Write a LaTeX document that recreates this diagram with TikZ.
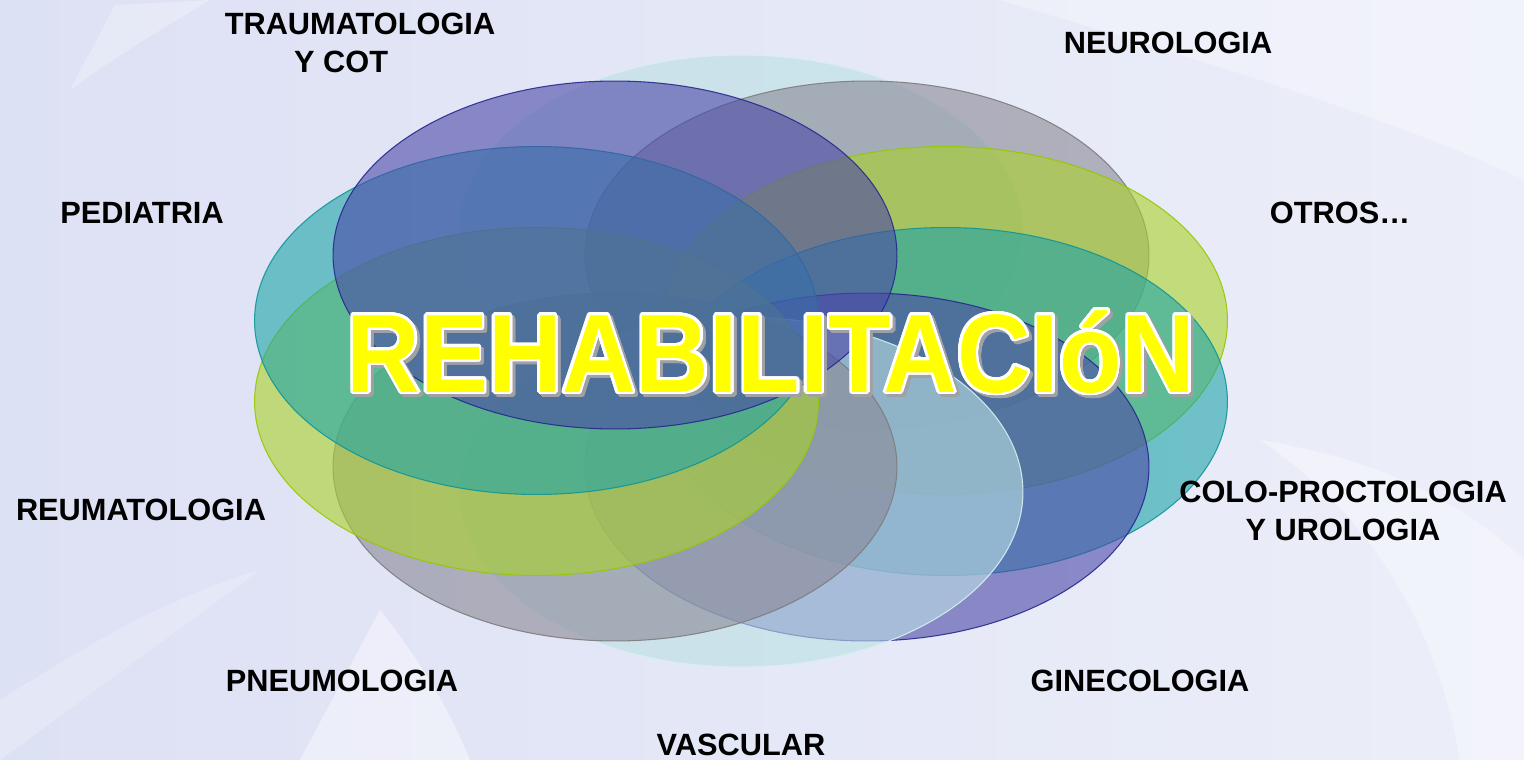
\documentclass[tikz,border=0pt]{standalone}
\usepackage{fontspec}
\setmainfont{Liberation Sans}
\usepackage{contour}
\contourlength{1.6pt}
\contournumber{24}
\usetikzlibrary{positioning}

\definecolor{bgleft}{RGB}{221,225,244}
\definecolor{bgright}{RGB}{236,238,249}
\definecolor{setpurple}{RGB}{75,72,168}
\definecolor{setpurpleline}{RGB}{40,40,140}
\definecolor{setcyan}{RGB}{187,224,228}
\definecolor{setcyanline}{RGB}{215,240,240}
\definecolor{setgray}{RGB}{138,136,150}
\definecolor{setgrayline}{RGB}{125,125,125}
\definecolor{setlime}{RGB}{170,210,40}
\definecolor{setlimeline}{RGB}{150,200,0}
\definecolor{setteal}{RGB}{30,164,168}
\definecolor{settealline}{RGB}{15,150,150}
\definecolor{titleyellow}{RGB}{255,255,0}
\definecolor{shadowgray}{RGB}{160,160,165}

\tikzset{purple set/.style={fill=setpurple, draw=setpurpleline, fill opacity=0.6, draw opacity=0.9, line width=0.6pt}}
\tikzset{cyan set/.style={fill=setcyan, draw=setcyanline, fill opacity=0.6, draw opacity=0.9, line width=0.6pt}}
\tikzset{gray set/.style={fill=setgray, draw=setgrayline, fill opacity=0.6, draw opacity=0.9, line width=0.6pt}}
\tikzset{lime set/.style={fill=setlime, draw=setlimeline, fill opacity=0.6, draw opacity=0.9, line width=0.6pt}}
\tikzset{teal set/.style={fill=setteal, draw=settealline, fill opacity=0.6, draw opacity=0.9, line width=0.6pt}}
\tikzset{area label/.style={font=\fontsize{17.5}{21.5}\selectfont\bfseries, align=center, inner sep=0pt}}
\tikzset{title text/.style={font=\fontsize{63.5}{70}\selectfont\bfseries, inner sep=0pt, anchor=base, xscale=0.915, transform shape}}

\begin{document}
\begin{tikzpicture}[x=0.02cm, y=-0.02cm]
\useasboundingbox (0,0) rectangle (1524,760);

% Background with soft white swooshes
\fill[left color=bgleft, right color=bgright] (0,0) rectangle (1524,760);
\fill[white, opacity=0.3] (1000,0) .. controls (1200,60) and (1400,120) .. (1524,180) -- (1524,0) -- cycle;
\fill[white, opacity=0.35] (1260,440) .. controls (1380,520) and (1440,640) .. (1460,760) -- (1524,760) -- (1524,560) .. controls (1460,500) and (1380,460) .. (1260,440);
\fill[white, opacity=0.4] (300,760) -- (380,610) .. controls (420,660) and (450,710) .. (470,760) -- cycle;
\fill[white, opacity=0.25] (70,90) -- (115,5) -- (210,0) .. controls (160,30) and (110,60) .. (70,90);
\fill[white, opacity=0.2] (0,700) .. controls (80,650) and (160,600) .. (260,570) -- (0,760) -- cycle;

% Ring of ellipses, clockwise from the top
\draw[cyan set] (741,230) ellipse [x radius=5.64cm, y radius=3.5cm];
\draw[gray set] (867,255) ellipse [x radius=5.64cm, y radius=3.48cm];
\draw[lime set] (945.5,320.5) ellipse [x radius=5.64cm, y radius=3.48cm];
\draw[teal set] (945.5,401.5) ellipse [x radius=5.64cm, y radius=3.48cm];
\draw[purple set] (867,467) ellipse [x radius=5.64cm, y radius=3.48cm];
\draw[cyan set] (741,492) ellipse [x radius=5.64cm, y radius=3.5cm];
\draw[gray set] (615,467) ellipse [x radius=5.64cm, y radius=3.48cm];
\draw[lime set] (536.5,401.5) ellipse [x radius=5.64cm, y radius=3.48cm];
\draw[teal set] (536.5,320.5) ellipse [x radius=5.64cm, y radius=3.48cm];
\draw[purple set] (615,255) ellipse [x radius=5.64cm, y radius=3.48cm];

% Title in the middle
\node[title text] (title shadow) at (774,395) {\contour{shadowgray}{\textcolor{shadowgray}{REHABILITACIóN}}};
\node[title text] (title) at (771,392) {\contour{white}{\textcolor{titleyellow}{REHABILITACIóN}}};

% Labels round the ring
\node[area label] (trauma) at (360,43) {TRAUMATOLOGIA\\Y COT\hspace*{21.5pt}};
\node[area label] (neuro) at (1168,43) {NEUROLOGIA};
\node[area label] (pedia) at (142,213) {PEDIATRIA};
\node[area label] (otros) at (1340,213) {OTROS…};
\node[area label] (reuma) at (141,510) {REUMATOLOGIA};
\node[area label] (colo) at (1343,511) {COLO-PROCTOLOGIA\\Y UROLOGIA};
\node[area label] (pneumo) at (342,681) {PNEUMOLOGIA};
\node[area label] (gineco) at (1140,681) {GINECOLOGIA};
\node[area label] (vascular) at (741,745) {VASCULAR};

\end{tikzpicture}
\end{document}
